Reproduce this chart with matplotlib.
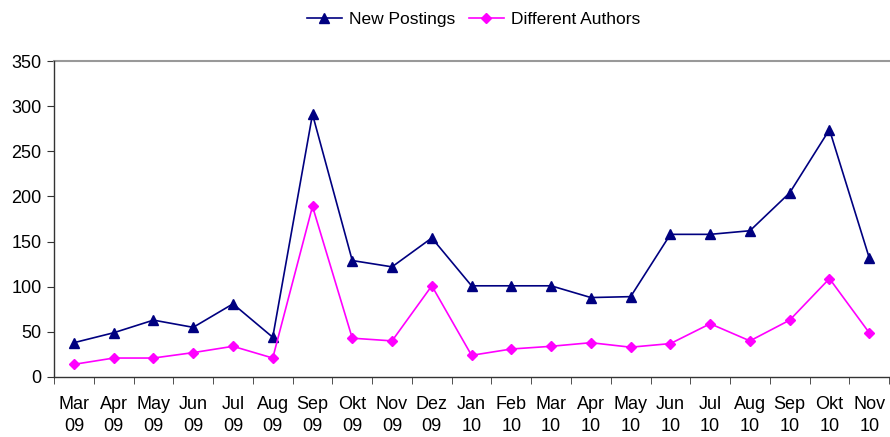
import matplotlib
matplotlib.use("Agg")
import matplotlib.pyplot as plt
import numpy as np

plt.rcParams["font.family"] = ["Liberation Sans", "DejaVu Sans"]

months = ["Mar\n09", "Apr\n09", "May\n09", "Jun\n09", "Jul\n09", "Aug\n09", "Sep\n09",
          "Okt\n09", "Nov\n09", "Dez\n09", "Jan\n10", "Feb\n10", "Mar\n10", "Apr\n10",
          "May\n10", "Jun\n10", "Jul\n10", "Aug\n10", "Sep\n10", "Okt\n10", "Nov\n10"]
new_postings = [38, 49, 63, 55, 81, 44, 291, 129, 122, 154, 101, 101, 101, 88,
                89, 158, 158, 162, 204, 274, 132]
different_authors = [14, 21, 21, 27, 34, 21, 189, 43, 40, 101, 24, 31, 34, 38,
                     33, 37, 59, 40, 63, 109, 49]

fig = plt.figure(figsize=(8.9, 4.37), dpi=100)
ax = fig.add_axes([0.0607, 0.1373, 0.9383, 0.7231])

x = np.arange(len(months))
ax.plot(x, new_postings, color="#000080", marker="^", markersize=7, lw=1.2,
        label="New Postings")
ax.plot(x, different_authors, color="#FF00FF", marker="D", markersize=5, lw=1.2,
        label="Different Authors")

ax.set_xlim(-0.5, len(months) - 0.5)
ax.set_ylim(0, 350)
ax.set_yticks(range(0, 351, 50))
ax.set_xticks(x)
ax.set_xticklabels(months, fontsize=13, linespacing=1.35)
ax.set_xticks(np.arange(-0.5, len(months), 1), minor=True)
ax.tick_params(axis="x", which="major", length=0, pad=14)
ax.tick_params(axis="x", which="minor", length=5, color="#333333", direction="out")
ax.tick_params(axis="y", length=5, color="#333333", labelsize=13, pad=4)

for s in ["top", "right"]:
    ax.spines[s].set_visible(False)
for s in ["left", "bottom"]:
    ax.spines[s].set_color("#333333")
    ax.spines[s].set_linewidth(1.0)
ax.axhline(350, color="#999999", lw=1.5, clip_on=False)

fig.legend(loc="upper center", bbox_to_anchor=(0.532, 1.008), ncol=2, frameon=False,
           fontsize=12.5, handlelength=2.0, columnspacing=0.8, handletextpad=0.4)

fig.savefig("out.png", dpi=100)
